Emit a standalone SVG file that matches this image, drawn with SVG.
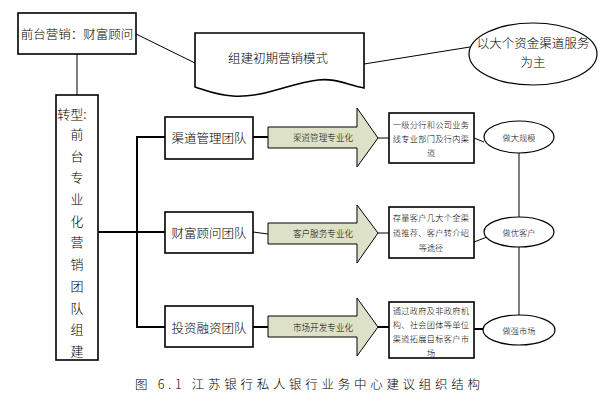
<svg xmlns="http://www.w3.org/2000/svg" width="614" height="402" viewBox="0 0 614 402">
<style>
.box{fill:#fff;stroke:#000;stroke-width:1.6}
.thin{fill:none;stroke:#000;stroke-width:1}
.thick{fill:none;stroke:#000;stroke-width:2}
.arr{fill:#dde1c8;stroke:#000;stroke-width:1}
.ell{fill:#fff;stroke:#000;stroke-width:1.2}
text{font-family:"Noto Sans CJK SC","Liberation Sans",sans-serif;font-weight:300;fill:#000;text-anchor:middle;dominant-baseline:central}
.t13{font-size:13px}
.t12{font-size:12.5px}
.t9{font-size:8.6px}
.t8{font-size:8.2px}
</style>
<rect width="614" height="402" fill="#fff"/>
<g id="connectors">
<line class="thin" x1="136" y1="34" x2="195" y2="63"/>
<line class="thin" x1="364" y1="64" x2="470" y2="47"/>
<line class="thin" x1="77" y1="54" x2="77" y2="95"/>
<line class="thick" x1="98" y1="232" x2="165" y2="232"/>
<polyline class="thick" points="165,137 137,137 137,327 165,327"/>
<line class="thick" x1="253" y1="137" x2="268" y2="137"/>
<line class="thin" x1="253" y1="232" x2="268" y2="234"/>
<line class="thick" x1="253" y1="327" x2="268" y2="327"/>
<line class="thin" x1="378" y1="138" x2="389" y2="138"/>
<line class="thin" x1="378" y1="233" x2="389" y2="233"/>
<line class="thick" x1="378" y1="327" x2="389" y2="327"/>
<line class="thin" x1="474" y1="138" x2="484" y2="142"/>
<line class="thin" x1="474" y1="242" x2="487" y2="237"/>
<line class="thick" x1="474" y1="329" x2="483" y2="329"/>
<line class="thin" x1="519" y1="153" x2="519" y2="217"/>
<line class="thin" x1="519" y1="247" x2="519" y2="315"/>
</g>
<g id="front">
<rect class="box" x="18" y="13" width="118" height="41"/>
<text class="t12" x="77" y="33">前台营销：财富顾问</text>
</g>
<g id="doc">
<path class="box" d="M195,33 H364 V88 C345,84 335,78 318,80 C290,83 265,98 233,96 C215,95 205,90 195,87 Z"/>
<text class="t12" x="278" y="57">组建初期营销模式</text>
</g>
<g id="goal">
<ellipse class="ell" cx="533" cy="54" rx="64" ry="31"/>
<text class="t12" x="533" y="42">以大个资金渠道服务</text>
<text class="t12" x="533" y="61">为主</text>
</g>
<g id="transform">
<rect class="box" x="56" y="95" width="42" height="265"/>
<text class="t13" x="72" y="113">转型:</text>
<text class="t13" x="77" y="133">前</text>
<text class="t13" x="77" y="155">台</text>
<text class="t13" x="77" y="176">专</text>
<text class="t13" x="77" y="198">业</text>
<text class="t13" x="77" y="220">化</text>
<text class="t13" x="77" y="241">营</text>
<text class="t13" x="77" y="263">销</text>
<text class="t13" x="77" y="285">团</text>
<text class="t13" x="77" y="307">队</text>
<text class="t13" x="77" y="328">组</text>
<text class="t13" x="77" y="350">建</text>
</g>
<g id="team1">
<rect class="box" x="165" y="117" width="88" height="42"/>
<text class="t12" x="209" y="137">渠道管理团队</text>
</g>
<g id="team2">
<rect class="box" x="165" y="212" width="88" height="41"/>
<text class="t12" x="209" y="232">财富顾问团队</text>
</g>
<g id="team3">
<rect class="box" x="165" y="306" width="88" height="41"/>
<text class="t12" x="209" y="327">投资融资团队</text>
</g>
<g id="arrow1">
<path class="arr" d="M268,127 H357 V108 L378,138 L357,167 V148 H268 Z"/>
<text class="t9" x="323" y="137">渠道管理专业化</text>
</g>
<g id="arrow2">
<path class="arr" d="M268,223 H357 V205 L378,233 L357,263 V244 H268 Z"/>
<text class="t9" x="323" y="233">客户服务专业化</text>
</g>
<g id="arrow3">
<path class="arr" d="M268,316 H357 V298 L378,327 L357,356 V337 H268 Z"/>
<text class="t9" x="323" y="327">市场开发专业化</text>
</g>
<g id="desc1">
<rect class="box" x="389" y="113" width="85" height="50"/>
<text class="t8" x="431" y="124" letter-spacing="0.3">一级分行和公司业务</text>
<text class="t8" x="431" y="138" letter-spacing="0.3">线专业部门及行内渠</text>
<text class="t8" x="431" y="152">道</text>
</g>
<g id="desc2">
<rect class="box" x="389" y="207" width="85" height="51"/>
<text class="t8" x="431" y="217" letter-spacing="0.3">存量客户几大个金渠</text>
<text class="t8" x="431" y="232" letter-spacing="0.3">道推荐、客户转介绍</text>
<text class="t8" x="431" y="247">等途径</text>
</g>
<g id="desc3">
<rect class="box" x="389" y="302" width="85" height="56"/>
<text class="t8" x="431" y="310" letter-spacing="0.3">通过政府及非政府机</text>
<text class="t8" x="431" y="324" letter-spacing="0.3">构、社会团体等单位</text>
<text class="t8" x="431" y="338" letter-spacing="0.3">渠道拓展目标客户市</text>
<text class="t8" x="431" y="352">场</text>
</g>
<g id="scale">
<ellipse class="ell" cx="519" cy="137" rx="35" ry="16"/>
<text class="t8" x="519" y="137">做大规模</text>
</g>
<g id="client">
<ellipse class="ell" cx="519" cy="232" rx="35" ry="15"/>
<text class="t8" x="519" y="232">做优客户</text>
</g>
<g id="market">
<ellipse class="ell" cx="519" cy="330" rx="36" ry="15"/>
<text class="t8" x="519" y="330">做强市场</text>
</g>
<g id="caption">
<text x="135" y="383" style="font-family:'Noto Sans CJK SC','Liberation Serif',serif;font-size:12.5px;text-anchor:start" textLength="345" lengthAdjust="spacing">图 6.1 江苏银行私人银行业务中心建议组织结构</text>
</g>
</svg>
